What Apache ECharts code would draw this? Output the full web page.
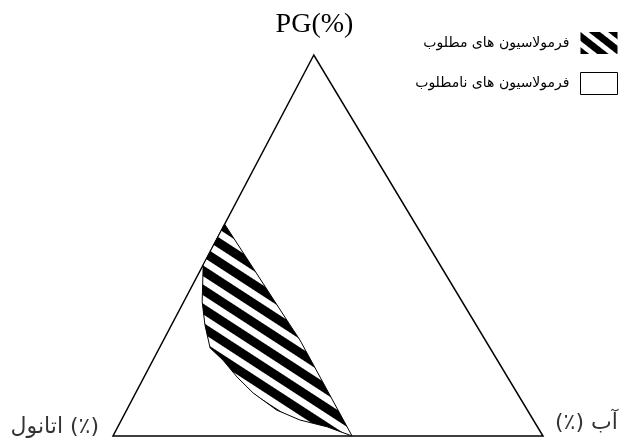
<!DOCTYPE html>
<html>
<head>
<meta charset="utf-8">
<script src="https://cdn.jsdelivr.net/npm/echarts@6/dist/echarts.min.js"></script>
<style>
  html, body { margin: 0; background: #fff; }
  #chart { width: 629px; height: 448px; }
</style>
</head>
<body>
<div id="chart"></div>
<script>
// ternary compositions in %, ethanol = 100 - PG - water
const seriesNames = ['فرمولاسیون های مطلوب', 'فرمولاسیون های نامطلوب'];
const cornerLabels = ['اتانول (٪)', '(٪) آب'];

// whole diagram: PG apex, ethanol corner, water corner
const trianglePG = [100, 0, 0];
const triangleWater = [0, 0, 100];

// desirable region outline, from the top tip down the ethanol edge, along the curve, back up
const goodPG = [55.6, 44.9, 40.4, 35.2, 29.1, 23.1, 19.9, 15.5, 11.3, 6.8, 4.2, 2.4, 0, 25.2, 29.1];
const goodWater = [0, 0, 2.0, 4.3, 7.8, 11.8, 16.3, 21.6, 27.3, 34.9, 41.5, 48.7, 55.6, 31.7, 27.6];

const APEX = 0.467; // apex sits a bit left of the middle in the picture

function toXY(pg, water) {
    return [water + pg * APEX, pg];
}

// striped fill
function stripes(on, off, angle) {
    const c = document.createElement('canvas');
    c.width = 8;
    c.height = on + off;
    const ctx = c.getContext('2d');
    ctx.fillStyle = '#fff';
    ctx.fillRect(0, 0, 8, on + off);
    ctx.fillStyle = '#000';
    ctx.fillRect(0, 0, 8, on);
    return { image: c, repeat: 'repeat', rotation: angle * Math.PI / 180 };
}

const hatch = stripes(9, 7, 33);
const hatchLegend = stripes(7, 5, 38);

function polygonSeries(name, pgArr, waterArr, fill, z) {
    const pts = pgArr.map((p, i) => toXY(p, waterArr[i]));
    return {
        type: 'custom',
        name: name,
        coordinateSystem: 'cartesian2d',
        data: [[0, 0]],
        z: z,
        silent: true,
        itemStyle: { color: fill, borderColor: '#000', borderWidth: 1 },
        renderItem: function (params, api) {
            return {
                type: 'polygon',
                shape: { points: pts.map(p => api.coord(p)) },
                style: { fill: fill, stroke: '#000', lineWidth: z === 1 ? 1.5 : 1 }
            };
        }
    };
}

const chart = echarts.init(document.getElementById('chart'), null, { renderer: 'canvas' });

chart.setOption({
    animation: false,
    backgroundColor: '#fff',
    title: {
        text: 'PG(%)',
        left: 'center',
        top: 6,
        textStyle: { fontFamily: 'Liberation Serif', fontSize: 28, fontWeight: 'normal', color: '#000' }
    },
    legend: {
        orient: 'vertical',
        right: 6,
        top: 27,
        align: 'right',
        itemWidth: 37,
        itemHeight: 22,
        itemGap: 18,
        textStyle: { fontFamily: 'DejaVu Sans', fontSize: 14, color: '#000', padding: [0, 6, 0, 0] },
        data: [
            { name: seriesNames[0], icon: 'rect', itemStyle: { color: hatchLegend, borderWidth: 0 } },
            { name: seriesNames[1], icon: 'rect', itemStyle: { color: '#fff', borderColor: '#000', borderWidth: 1 } }
        ]
    },
    grid: { left: 113, right: 86, top: 55, bottom: 12 },
    xAxis: { type: 'value', min: 0, max: 100, show: false },
    yAxis: { type: 'value', min: 0, max: 100, show: false },
    series: [
        polygonSeries(seriesNames[1], trianglePG, triangleWater, '#fff', 1),
        polygonSeries(seriesNames[0], goodPG, goodWater, hatch, 2),
        {
            type: 'scatter',
            symbolSize: 0,
            silent: true,
            z: 3,
            label: { show: true, fontFamily: 'DejaVu Sans', fontSize: 22, color: '#000' },
            data: [
                { value: toXY(0, 0), label: { formatter: cornerLabels[0], position: 'left', offset: [-9, -9] } },
                { value: toXY(0, 100), label: { formatter: cornerLabels[1], position: 'right', offset: [7, -13] } }
            ]
        }
    ]
});
</script>
</body>
</html>
